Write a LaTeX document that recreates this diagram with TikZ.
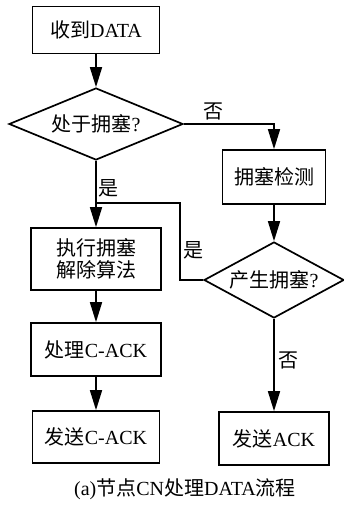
\documentclass[tikz,border=0pt]{standalone}
\usepackage{fontspec}
\setmainfont{Liberation Serif}
\newfontfamily\cjk{Noto Sans CJK SC}
\usetikzlibrary{shapes.geometric,arrows.meta}
\begin{document}
\begin{tikzpicture}[x=1pt,y=-1pt,
  every node/.style={font=\fontsize{20}{22}\selectfont},
  proc/.style={draw,line width=1.7pt,inner sep=0pt,align=center},
  cond/.style={draw,diamond,line width=1.7pt,inner sep=0pt,shape aspect=2.4},
  lbl/.style={inner sep=0pt},
  flow/.style={line width=1.7pt,-{Triangle[length=20pt,width=12pt]}},
  link/.style={line width=1.7pt}]
\useasboundingbox (0,0) rectangle (343,508);
\node[proc,minimum width=127pt,minimum height=47pt] (b1) at (96,30) {{\cjk 收到}DATA};
\node[cond,minimum width=174pt,minimum height=72pt] (d1) at (96,124) {{\cjk 处于拥塞}?};
\node[proc,minimum width=130pt,minimum height=62pt] (b2) at (96,259) {{\cjk 执行拥塞}\\{\cjk 解除算法}};
\node[proc,minimum width=130pt,minimum height=53pt] (b3) at (96,349.5) {{\cjk 处理}C-ACK};
\node[proc,minimum width=127pt,minimum height=52pt] (b4) at (96,437) {{\cjk 发送}C-ACK};
\node[proc,minimum width=103pt,minimum height=54pt] (r1) at (274,177) {{\cjk 拥塞检测}};
\node[cond,minimum width=140pt,minimum height=76pt] (d2) at (274,280) {{\cjk 产生拥塞}?};
\node[proc,minimum width=110pt,minimum height=53pt] (r2) at (274,438.5) {{\cjk 发送}ACK};
\coordinate (j) at (96,203);
\coordinate (k) at (180,280);
\draw[flow] (b1) -- (d1);
\draw[flow] (d1) -- (b2);
\draw[flow] (b2) -- (b3);
\draw[flow] (b3) -- (b4);
\draw[flow] (d1.east) -| (r1.north);
\draw[flow] (r1) -- (d2);
\draw[flow] (d2) -- (r2);
\draw[link] (d2.west) -- (k) |- (j);
\node[lbl] (n1) at (213,111) {\cjk 否};
\node[lbl] (y1) at (108,188) {\cjk 是};
\node[lbl] (y2) at (193,250) {\cjk 是};
\node[lbl] (n2) at (288,360) {\cjk 否};
\node[lbl] (cap) at (185,489) {(a){\cjk 节点}CN{\cjk 处理}DATA{\cjk 流程}};
\end{tikzpicture}
\end{document}
